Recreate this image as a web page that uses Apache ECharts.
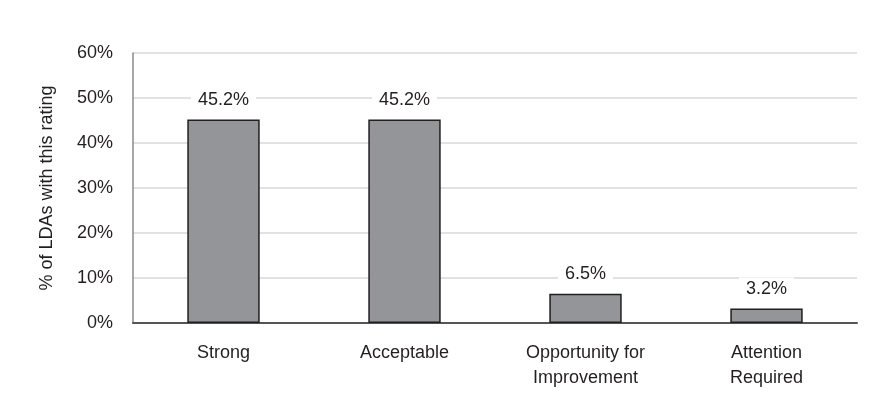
<!DOCTYPE html>
<html><head><meta charset="utf-8">
<script src="https://cdn.jsdelivr.net/npm/echarts@6/dist/echarts.min.js"></script>
<style>html,body{margin:0;padding:0;background:#fff}#c{width:893px;height:411px}</style>
</head><body><div id="c"></div>
<script>
const categories = ["Strong", "Acceptable", "Opportunity for\nImprovement", "Attention\nRequired"];
const values = [45.2, 45.2, 6.5, 3.2];
const yTicks = [0, 10, 20, 30, 40, 50, 60];
const yAxisName = "% of LDAs with this rating";
const FONT = "'Liberation Sans', Arial, sans-serif";
const FS = 18;

const chart = echarts.init(document.getElementById('c'));
chart.setOption({
  animation: false,
  textStyle: { fontFamily: FONT },
  grid: { left: 133, right: 36, top: 53, bottom: 88 },
  xAxis: {
    type: 'category',
    data: categories,
    axisLine: { lineStyle: { color: '#555', width: 2 } },
    axisTick: { show: false },
    axisLabel: { color: '#231f20', fontSize: FS, fontFamily: FONT, margin: 18, lineHeight: 25 }
  },
  yAxis: {
    type: 'value',
    min: yTicks[0], max: yTicks[yTicks.length - 1], interval: 10,
    name: yAxisName,
    nameLocation: 'middle',
    nameGap: 77,
    nameTextStyle: { color: '#231f20', fontSize: FS, fontFamily: FONT },
    axisLine: { show: true, lineStyle: { color: '#8a8a8a', width: 1.5 } },
    axisTick: { show: false },
    splitLine: { lineStyle: { color: '#d9d9d9', width: 1.5 } },
    axisLabel: { color: '#231f20', fontSize: FS, fontFamily: FONT, margin: 20, formatter: v => v + '%' }
  },
  series: [{
    type: 'bar',
    data: values,
    barWidth: '40%',
    itemStyle: { color: '#939598', borderColor: '#231f20', borderWidth: 1.5 },
    label: {
      show: true, position: 'top', distance: 9,
      color: '#231f20', fontSize: FS, fontFamily: FONT,
      backgroundColor: '#fff', padding: [2, 7, 2, 7],
      formatter: p => p.value.toFixed(1) + '%'
    }
  }]
});
</script></body></html>
